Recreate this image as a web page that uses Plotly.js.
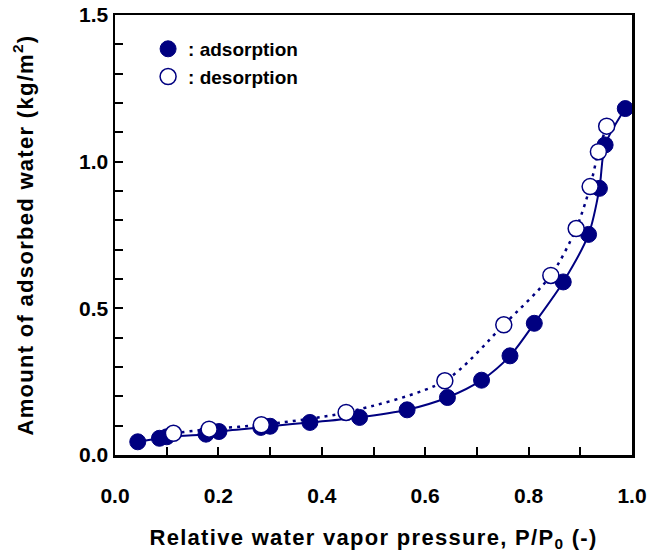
<!DOCTYPE html>
<html>
<head>
<meta charset="utf-8">
<script src="https://cdn.plot.ly/plotly-3.0.1.min.js"></script>
<style>
  html, body { margin: 0; padding: 0; background: #fff; }
  #chart { width: 647px; height: 555px; }
  .xtitle, .ytitle { letter-spacing: 1.3px; }
</style>
</head>
<body>
<div id="chart"></div>
<script>
// Adsorption (filled circles)
const adsX = [0.044, 0.086, 0.100, 0.176, 0.201, 0.282, 0.300, 0.377, 0.473, 0.565, 0.643, 0.709, 0.764, 0.811, 0.867, 0.916, 0.937, 0.948, 0.987];
const adsY = [0.045, 0.057, 0.062, 0.071, 0.080, 0.094, 0.098, 0.111, 0.128, 0.154, 0.196, 0.255, 0.338, 0.449, 0.590, 0.752, 0.909, 1.057, 1.181];
// Desorption (open circles)
const desX = [0.113, 0.182, 0.283, 0.447, 0.638, 0.752, 0.843, 0.892, 0.919, 0.935, 0.951];
const desY = [0.074, 0.088, 0.103, 0.145, 0.253, 0.444, 0.612, 0.772, 0.915, 1.034, 1.121];

const adsName = ': adsorption';
const desName = ': desorption';
const xTitle = 'Relative water vapor pressure, P/P<sub>0</sub> (-)';
const yTitle = 'Amount of adsorbed water (kg/m<sup>2</sup>)';

const navy = '#000080';
const fontFam = 'Arial, "Liberation Sans", sans-serif';

const traces = [
  { x: desX, y: desY, mode: 'lines', showlegend: false, hoverinfo: 'skip',
    line: { color: navy, width: 2.5, dash: '3px,5px', shape: 'spline', smoothing: 0.8 } },
  { x: adsX, y: adsY, mode: 'lines', showlegend: false, hoverinfo: 'skip',
    line: { color: navy, width: 2, shape: 'spline', smoothing: 0.8 } },
  { x: adsX, y: adsY, mode: 'markers', name: adsName,
    marker: { symbol: 'circle', size: 16, color: navy, line: { color: navy, width: 1 } } },
  { x: desX, y: desY, mode: 'markers', name: desName,
    marker: { symbol: 'circle', size: 16, color: '#ffffff', line: { color: navy, width: 1.5 } } }
];

const minorTicks = { dtick: 0.1, ticks: 'inside', ticklen: 8, tickwidth: 2, tickcolor: '#000' };

const layout = {
  width: 647, height: 555,
  margin: { l: 115, r: 15, t: 15, b: 100 },
  paper_bgcolor: '#fff', plot_bgcolor: '#fff',
  font: { family: fontFam, size: 20, color: '#000', weight: 'bold' },
  showlegend: true,
  legend: {
    x: 0.064, xanchor: 'left', y: 0.966, yanchor: 'top',
    bgcolor: 'rgba(0,0,0,0)', borderwidth: 0,
    font: { family: fontFam, size: 19, color: '#000', weight: 'bold' },
    tracegroupgap: 0
  },
  xaxis: {
    range: [0, 1], dtick: 0.2, tick0: 0, tickformat: '.1f',
    ticks: 'inside', ticklen: 8, tickwidth: 2, tickcolor: '#000',
    minor: minorTicks,
    showline: true, linewidth: 2.5, linecolor: '#000', mirror: true,
    showgrid: false, zeroline: false,
    tickfont: { family: fontFam, size: 21, color: '#000', weight: 'bold' },
    ticklabelstandoff: 20,
    title: { text: xTitle, standoff: 24,
      font: { family: fontFam, size: 22, color: '#000', weight: 'bold' } }
  },
  yaxis: {
    range: [0, 1.5], dtick: 0.5, tick0: 0, tickformat: '.1f',
    ticks: 'inside', ticklen: 8, tickwidth: 2, tickcolor: '#000',
    minor: minorTicks,
    showline: true, linewidth: 2.5, linecolor: '#000', mirror: true,
    showgrid: false, zeroline: false,
    tickfont: { family: fontFam, size: 21, color: '#000', weight: 'bold' },
    ticklabelstandoff: 0,
    title: { text: yTitle, standoff: 40,
      font: { family: fontFam, size: 22, color: '#000', weight: 'bold' } }
  }
};

Plotly.newPlot('chart', traces, layout, { displayModeBar: false, staticPlot: true });
</script>
</body>
</html>
